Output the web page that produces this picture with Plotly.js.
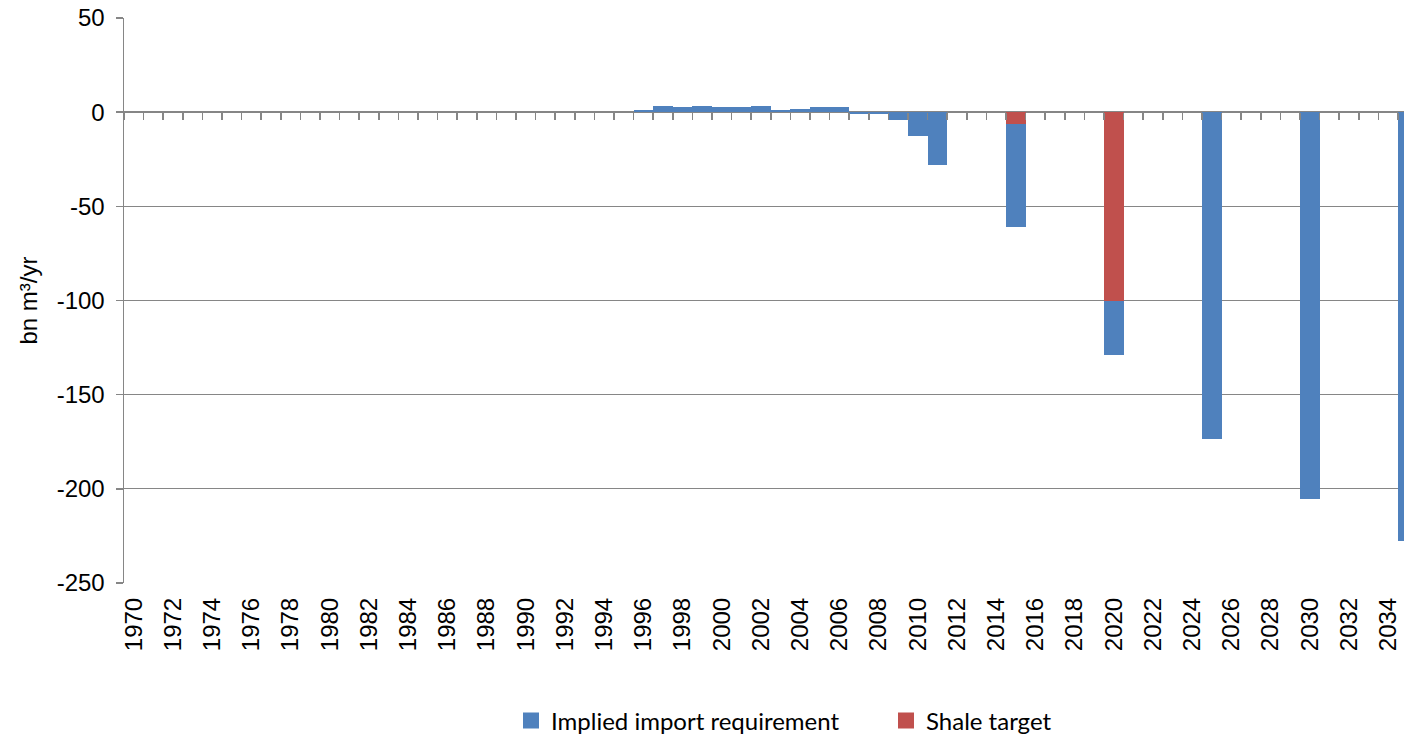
<!DOCTYPE html>
<html>
<head>
<meta charset="utf-8">
<script src="https://cdn.plot.ly/plotly-3.0.1.min.js"></script>
<style>
html,body{margin:0;padding:0;background:#fff;overflow:hidden;}
#chart{width:1404px;height:737px;}
</style>
</head>
<body>
<div id="chart"></div>
<script>
// Years (categories)
const years = [];
for (let y = 1970; y <= 2035; y++) years.push(y);

// X tick labels (every second year)
const tickYears = [];
for (let y = 1970; y <= 2034; y += 2) tickYears.push(y);
const tickLabels = tickYears.map(String);

// Y tick values and labels
const yTickVals = [50, 0, -50, -100, -150, -200, -250];
const yTickLabels = ['50', '0', '-50', '-100', '-150', '-200', '-250'];

// Implied import requirement (bn m3/yr)
const importYears = [1996,1997,1998,1999,2000,2001,2002,2003,2004,2005,2006,2007,2008,2009,2010,2011,2015,2020,2025,2030,2035];
const importValues = [1.4,3.2,2.8,3.5,2.5,2.8,3.5,1.1,1.8,2.5,2.5,-1.0,-0.8,-4.3,-12.8,-28.3,-54.5,-29,-173.4,-205.5,-227.5];

// Shale target (bn m3/yr)
const shaleYears = [2015, 2020];
const shaleValues = [-6.5, -100];

const seriesNames = ['Implied import requirement', 'Shale target'];

const BLUE = '#4F81BD';
const RED = '#C0504D';
const GRID = '#868686';
const ARIAL = '"Liberation Sans", Arial, sans-serif';

const traces = [
  {
    type: 'bar', name: seriesNames[1], x: shaleYears, y: shaleValues,
    marker: {color: RED}, width: 1, showlegend: false
  },
  {
    type: 'bar', name: seriesNames[0], x: importYears, y: importValues,
    marker: {color: BLUE}, width: 1, showlegend: false
  },
  // legend-only entries with larger square swatches
  {
    type: 'scatter', mode: 'markers', name: seriesNames[0], x: [null], y: [null],
    marker: {symbol: 'square', size: 16, color: BLUE}, legendrank: 1, hoverinfo: 'skip'
  },
  {
    type: 'scatter', mode: 'markers', name: seriesNames[1], x: [null], y: [null],
    marker: {symbol: 'square', size: 16, color: RED}, legendrank: 2, hoverinfo: 'skip'
  },
  {
    type: 'scatter', x: [], y: [], xaxis: 'x2', yaxis: 'y', showlegend: false, hoverinfo: 'skip'
  }
];

const xr = [1969.5, 1969.5 + 1280 / 19.6];
const boundaries = years.map(y => y - 0.5);

const layout = {
  width: 1404, height: 737,
  margin: {l: 124, r: 0, t: 18, b: 154},
  paper_bgcolor: '#fff', plot_bgcolor: '#fff',
  barmode: 'relative', bargap: 0,
  font: {family: ARIAL, size: 24, color: '#000'},
  xaxis: {
    type: 'linear', range: xr, automargin: false,
    tickmode: 'array', tickvals: tickYears, ticktext: tickLabels,
    tickangle: -90, ticks: '', showgrid: false, zeroline: false, showline: false,
    ticklabelstandoff: 9,
    tickfont: {size: 24, family: ARIAL, color: '#000'}
  },
  xaxis2: {
    type: 'linear', range: xr, overlaying: 'x', anchor: 'free', position: 250/300,
    tickmode: 'array', tickvals: boundaries, ticks: 'outside', ticklen: 7, tickwidth: 1.5,
    tickcolor: GRID, showticklabels: false, showgrid: false, zeroline: false, showline: false
  },
  yaxis: {
    range: [-250, 50], automargin: false,
    tickmode: 'array', tickvals: yTickVals, ticktext: yTickLabels,
    ticks: 'outside', ticklen: 7, tickwidth: 1.5, tickcolor: GRID,
    showgrid: true, gridcolor: GRID, gridwidth: 1.2,
    zeroline: true, zerolinecolor: GRID, zerolinewidth: 2.2,
    showline: true, linecolor: GRID, linewidth: 1.5,
    ticklabelstandoff: 6,
    tickfont: {size: 24, family: ARIAL, color: '#000'},
    title: {text: 'bn m³/yr', font: {size: 24, family: ARIAL, color: '#000'}, standoff: 12}
  },
  showlegend: true,
  legend: {
    orientation: 'h', xref: 'container', yref: 'container',
    x: 511 / 1404, xanchor: 'left', y: 16 / 737, yanchor: 'middle',
    font: {family: 'Lato, Carlito, Calibri, sans-serif', size: 24, color: '#000'},
    traceorder: 'normal', entrywidth: 330, itemwidth: 30
  }
};

Plotly.newPlot('chart', traces, layout, {displayModeBar: false, staticPlot: true});
</script>
</body>
</html>
